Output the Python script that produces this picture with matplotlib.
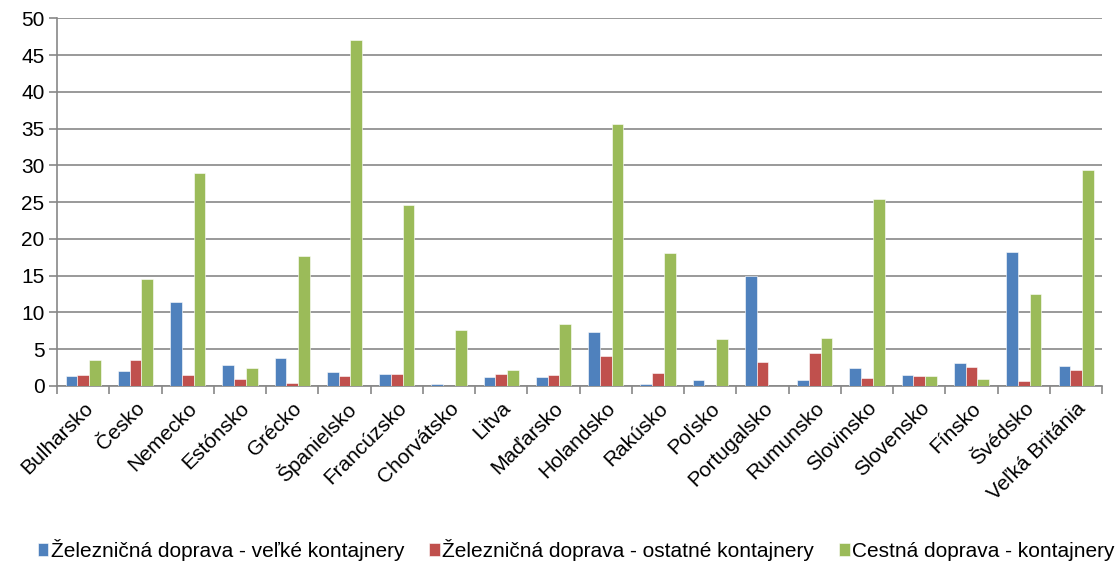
import matplotlib
matplotlib.use("Agg")
import matplotlib.pyplot as plt
import numpy as np

countries = ["Bulharsko", "Česko", "Nemecko", "Estónsko", "Grécko", "Španielsko",
             "Francúzsko", "Chorvátsko", "Litva", "Maďarsko", "Holandsko", "Rakúsko",
             "Poľsko", "Portugalsko", "Rumunsko", "Slovinsko", "Slovensko", "Fínsko",
             "Švédsko", "Veľká Británia"]

rail_large = [1.4, 2.1, 11.4, 2.9, 3.8, 1.9, 1.6, 0.3, 1.2, 1.2, 7.4, 0.3,
              0.8, 15.0, 0.8, 2.4, 1.5, 3.1, 18.2, 2.7]
rail_other = [1.5, 3.5, 1.5, 0.9, 0.4, 1.4, 1.6, 0.05, 1.6, 1.5, 4.1, 1.8,
              0.0, 3.2, 4.5, 1.1, 1.4, 2.6, 0.7, 2.2]
road = [3.6, 14.5, 29.0, 2.5, 17.7, 47.0, 24.6, 7.6, 2.2, 8.4, 35.6, 18.1,
        6.4, 0.0, 6.5, 25.4, 1.3, 0.9, 12.5, 29.4]

series_names = ["Železničná doprava - veľké kontajnery",
                "Železničná doprava - ostatné kontajnery",
                "Cestná doprava - kontajnery"]
colors = ["#4F81BD", "#C0504D", "#9BBB59"]
y_ticks = [0, 5, 10, 15, 20, 25, 30, 35, 40, 45, 50]

plt.rcParams["font.family"] = ["Liberation Sans", "DejaVu Sans"]
grid_col = "#878787"
fs = 15

fig = plt.figure(figsize=(11.19, 5.71), dpi=100)
ax = fig.add_axes([0.051, 0.324, 0.934, 0.644])

x = np.arange(len(countries))
w = 0.224
for i, (vals, name, col) in enumerate(zip([rail_large, rail_other, road], series_names, colors)):
    ax.bar(x + (i - 1) * w, vals, w, color=col, label=name, zorder=3,
           edgecolor="#ffffff", linewidth=0.4)

ax.set_xlim(-0.5, len(countries) - 0.5)
ax.set_ylim(0, 50)
ax.set_yticks(y_ticks)
ax.yaxis.grid(True, color=grid_col, linewidth=1.2, zorder=0)
ax.set_axisbelow(True)

ax.set_xticks(x)
ax.set_xticklabels(countries, rotation=45, ha="right", rotation_mode="anchor", fontsize=fs)
ax.set_xticks(np.arange(-0.5, len(countries), 1), minor=True)
ax.tick_params(axis="x", which="major", length=0, pad=9)
ax.tick_params(axis="x", which="minor", length=6, width=1.2, color=grid_col, direction="out")
ax.tick_params(axis="y", length=6, width=1.2, color=grid_col, labelsize=fs, pad=3)

for s in ["top", "right"]:
    ax.spines[s].set_visible(False)
for s in ["left", "bottom"]:
    ax.spines[s].set_color(grid_col)
    ax.spines[s].set_linewidth(1.2)

fig.legend(loc="lower center", bbox_to_anchor=(0.515, -0.015), ncol=3, frameon=False,
           fontsize=fs, handlelength=0.5, handleheight=0.6, handletextpad=0.12,
           columnspacing=1.2)

fig.savefig("out.png", dpi=100)
plt.close(fig)
